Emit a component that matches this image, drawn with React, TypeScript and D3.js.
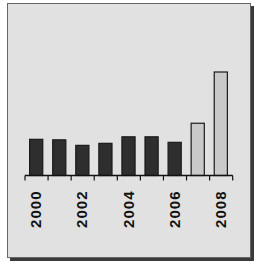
import React from 'react';
import {scaleBand, scaleLinear} from 'd3';

const years = ['2000', '2001', '2002', '2003', '2004', '2005', '2006', '2007', '2008'];
const values = [3.6, 3.55, 3.0, 3.2, 3.85, 3.85, 3.3, 5.2, 10.3];
const projected = [false, false, false, false, false, false, false, true, true];
const tickLabels = ['2000', '2002', '2004', '2006', '2008'];

const App = () => {
    let width = 255, height = 262;
    let axisY = 175.5;
    let x = scaleBand().domain(years).range([25, 232]).paddingInner(0.43).paddingOuter(0.2);
    let y = scaleLinear().domain([0, 10.3]).range([axisY, 72]);
    let step = x.step();
    let start = x(years[0]) - x.paddingOuter() * step;
    let bounds = years.map((d, i) => start + i * step).concat([start + years.length * step]);

    return (
        <svg width={width} height={height} style={{position: 'absolute', left: 0, top: 0}}>
            <rect x="10" y="6" width="244" height="255" fill="#3a3a3a"/>
            <rect x="7.5" y="3.5" width="243" height="254" fill="#e1e1e1" stroke="#666"/>

            {years.map((d, i) => <rect key={d}
                x={x(d)} y={y(values[i])} width={x.bandwidth()} height={axisY - y(values[i])}
                fill={projected[i] ? '#c9c9c9' : '#2e2e2e'} stroke="#1a1a1a" strokeWidth="1.2"/>)}

            <g className="axis" stroke="#111">
                <line x1={bounds[0]} y1={axisY} x2={bounds[bounds.length - 1]} y2={axisY} strokeWidth="1.5"/>
                {bounds.map((b, i) => <line key={i} x1={b} y1={axisY} x2={b} y2={axisY + 5} strokeWidth="1.2"/>)}
            </g>
            {tickLabels.map(t => <text key={t}
                transform={`translate(${x(t) + x.bandwidth() / 2 + 5},${axisY + 15}) rotate(-90)`}
                textAnchor="end" fontFamily="Liberation Sans, Arial, sans-serif" fontWeight="bold"
                fontSize="15" letterSpacing="1" fill="#111">{t}</text>)}
        </svg>
    );
};

export default App;
